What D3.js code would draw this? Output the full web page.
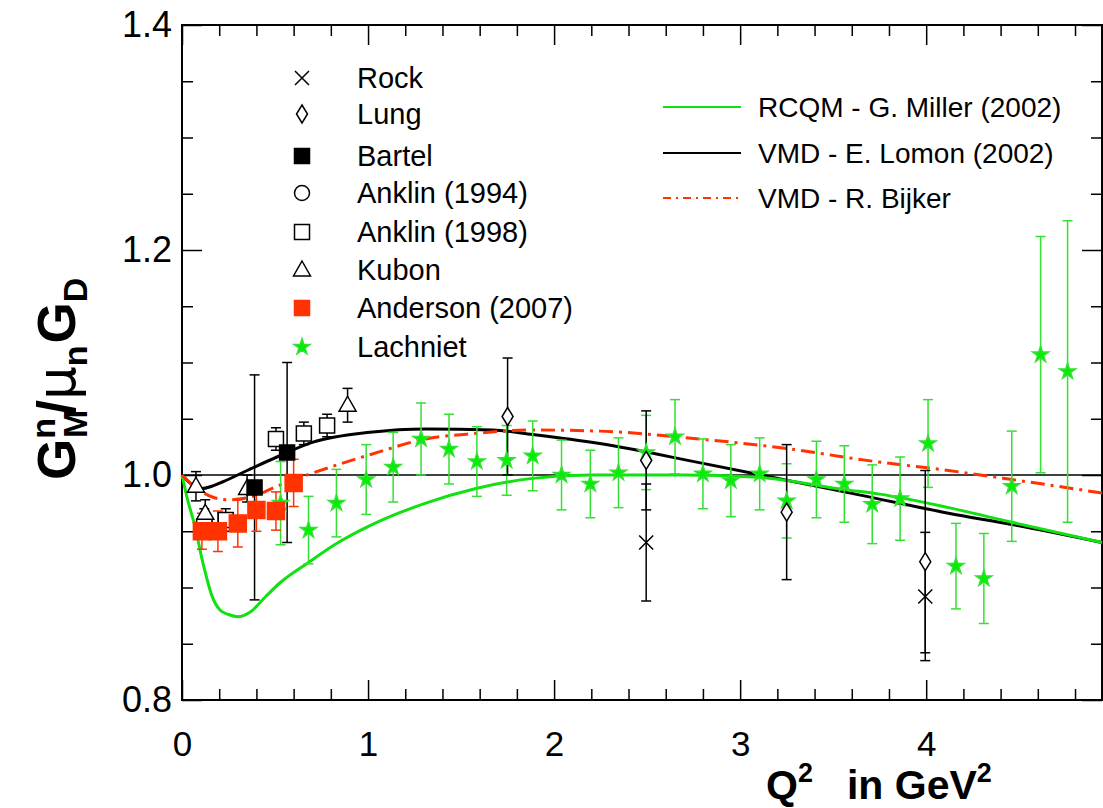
<!DOCTYPE html>
<html>
<head>
<meta charset="utf-8">
<script src="https://cdn.jsdelivr.net/npm/d3@7/dist/d3.min.js"></script>
<style>
  body { margin: 0; background: #fff; }
  text { font-family: "Liberation Sans", Arial, Helvetica, sans-serif; }
</style>
</head>
<body>
<div id="chart"></div>
<script>
// data: [Q2, ratio, error]
const rock = [[2.495, 0.940, 0.052], [3.995, 0.892, 0.057]];
const lung = [[1.75, 1.052, 0.052], [2.495, 1.013, 0.044], [3.25, 0.967, 0.060], [3.995, 0.923, 0.081]];
const bartel = [[0.39, 0.989, 0.100], [0.565, 1.020, 0.080]];
const anklin94 = [[0.12, 0.958, 0.012]];
const anklin98 = [[0.235, 0.960, 0.010], [0.505, 1.032, 0.010], [0.655, 1.037, 0.010], [0.78, 1.044, 0.010]];
const kubon = [[0.075, 0.990, 0.013], [0.125, 0.966, 0.012], [0.35, 0.988, 0.012], [0.89, 1.062, 0.015]];
const anderson = [[0.107, 0.950, 0.016], [0.193, 0.950, 0.018], [0.30, 0.957, 0.021], [0.40, 0.969, 0.019], [0.505, 0.968, 0.017], [0.60, 0.993, 0.021]];
const lachniet = [
  [0.53, 0.975, 0.037], [0.68, 0.951, 0.030], [0.83, 0.975, 0.030], [0.99, 0.996, 0.031],
  [1.135, 1.007, 0.031], [1.285, 1.032, 0.032], [1.435, 1.023, 0.031], [1.585, 1.012, 0.031],
  [1.745, 1.013, 0.031], [1.885, 1.017, 0.031], [2.04, 1.000, 0.031], [2.195, 0.992, 0.030],
  [2.346, 1.002, 0.031], [2.495, 1.020, 0.033], [2.65, 1.034, 0.033], [2.80, 1.001, 0.031],
  [2.95, 0.995, 0.032], [3.105, 1.001, 0.032], [3.25, 0.977, 0.033], [3.41, 0.996, 0.034],
  [3.56, 0.992, 0.034], [3.71, 0.974, 0.035], [3.86, 0.979, 0.037], [4.01, 1.028, 0.039],
  [4.16, 0.919, 0.038], [4.31, 0.908, 0.040], [4.46, 0.990, 0.049], [4.615, 1.107, 0.105],
  [4.76, 1.092, 0.134]
];

// theory curves [Q2, ratio]
const miller = [[0, 1.0], [0.03, 0.978], [0.064, 0.958], [0.118, 0.918], [0.16, 0.893], [0.204, 0.880],
  [0.25, 0.876], [0.30, 0.874], [0.365, 0.878], [0.45, 0.892], [0.526, 0.904], [0.678, 0.922],
  [0.82, 0.938], [1.01, 0.955], [1.31, 0.975], [1.58, 0.988], [1.885, 0.997], [2.2, 1.0],
  [2.69, 1.0], [3.1, 0.998], [3.56, 0.987], [3.75, 0.983], [4.12, 0.971], [4.46, 0.958], [4.945, 0.940]];
const lomon = [[0, 1.0], [0.05, 0.992], [0.107, 0.988], [0.16, 0.990], [0.22, 0.994], [0.35, 1.004],
  [0.51, 1.016], [0.70, 1.029], [1.01, 1.038], [1.31, 1.041], [1.67, 1.040], [1.885, 1.036],
  [2.245, 1.028], [2.78, 1.011], [3.23, 0.996], [3.68, 0.981], [4.12, 0.966], [4.46, 0.956], [4.945, 0.940]];
const bijker = [[0, 1.0], [0.08, 0.988], [0.17, 0.980], [0.245, 0.978], [0.38, 0.981], [0.525, 0.991],
  [0.69, 1.001], [1.01, 1.018], [1.31, 1.032], [1.58, 1.037], [1.885, 1.040], [2.245, 1.039],
  [2.78, 1.032], [3.23, 1.024], [3.68, 1.013], [4.12, 1.004], [4.46, 0.996], [4.945, 0.984]];

const xMajor = [0, 1, 2, 3, 4];
const yMajor = [0.8, 1.0, 1.2, 1.4];

const W = 1103, H = 808;
const mLeft = 182, mRight = 1102, mTop = 25, mBottom = 700;

let svg = d3.select("#chart").append("svg")
  .attr("width", W)
  .attr("height", H);

let x = d3.scaleLinear().domain([0, 4.945]).range([mLeft, mRight]);
let y = d3.scaleLinear().domain([0.8, 1.4]).range([mBottom, mTop]);

let xMinor = d3.range(0, 4.95, 0.2).filter(function(d){ return Math.abs(d - Math.round(d)) > 0.01; });
let yMinor = d3.range(0.8, 1.4, 0.05).filter(function(d){ return Math.abs(d * 5 - Math.round(d * 5)) > 0.01; });

// ticks, all pointing inward
function tickAxis(axis, tr, vals, size, labels) {
  let g = svg.append("g").attr("transform", tr)
    .call(axis.tickValues(vals).tickSize(size).tickFormat(labels ? labels : ""));
  g.select(".domain").remove();
  g.selectAll(".tick line").attr("stroke", "#000").attr("stroke-width", 1.5);
  return g;
}

tickAxis(d3.axisBottom(x), "translate(0," + mBottom + ")", xMinor, -11);
tickAxis(d3.axisTop(x), "translate(0," + mTop + ")", xMinor, -11);
tickAxis(d3.axisLeft(y), "translate(" + mLeft + ",0)", yMinor, -11);
tickAxis(d3.axisRight(y), "translate(" + mRight + ",0)", yMinor, -11);

let gx = tickAxis(d3.axisBottom(x).tickPadding(31), "translate(0," + mBottom + ")", xMajor, -20, d3.format("d"));
tickAxis(d3.axisTop(x), "translate(0," + mTop + ")", xMajor, -20);
let gy = tickAxis(d3.axisLeft(y).tickPadding(10), "translate(" + mLeft + ",0)", yMajor, -20, d3.format(".1f"));
tickAxis(d3.axisRight(y), "translate(" + mRight + ",0)", yMajor, -20);

gx.selectAll("text").attr("font-size", 35).attr("fill", "#000").attr("font-family", "Liberation Sans, Arial");
gy.selectAll("text").attr("font-size", 36).attr("fill", "#000").attr("font-family", "Liberation Sans, Arial");

svg.append("rect")
  .attr("x", mLeft).attr("y", mTop)
  .attr("width", mRight - mLeft).attr("height", mBottom - mTop)
  .attr("fill", "none").attr("stroke", "#000").attr("stroke-width", 2);

// reference line at 1
svg.append("line")
  .attr("x1", mLeft).attr("x2", mRight)
  .attr("y1", y(1)).attr("y2", y(1))
  .attr("stroke", "#000").attr("stroke-width", 1.5);

let plot = svg.append("g");

// theory curves
let line = d3.line()
  .x(function(d){ return x(d[0]); })
  .y(function(d){ return y(d[1]); })
  .curve(d3.curveMonotoneX);

plot.append("path").datum(lomon).attr("d", line)
  .attr("fill", "none").attr("stroke", "#000").attr("stroke-width", 3);
plot.append("path").datum(miller).attr("d", line)
  .attr("fill", "none").attr("stroke", "#11e011").attr("stroke-width", 3);
plot.append("path").datum(bijker).attr("d", line)
  .attr("fill", "none").attr("stroke", "#ff3300").attr("stroke-width", 3)
  .attr("stroke-dasharray", "14,6,3,6");

// marker shapes
const shapes = {
  cross: "M-7,-7L7,7M-7,7L7,-7",
  diamond: "M0,-9L5.5,0L0,9L-5.5,0Z",
  square: "M-7.5,-7.5H7.5V7.5H-7.5Z",
  bigSquare: "M-8.5,-8.5H8.5V8.5H-8.5Z",
  triangle: "M0,-9L8.5,6L-8.5,6Z",
  star: d3.symbol().type(d3.symbolStar).size(80)()
};

function errorBars(data, color, width) {
  let g = plot.append("g").attr("stroke", color).attr("stroke-width", width);
  let bars = g.selectAll("g").data(data).enter().append("g");
  bars.append("line")
    .attr("x1", function(d){ return x(d[0]); }).attr("x2", function(d){ return x(d[0]); })
    .attr("y1", function(d){ return y(d[1] - d[2]); }).attr("y2", function(d){ return y(d[1] + d[2]); });
  bars.append("line")
    .attr("x1", function(d){ return x(d[0]) - 5; }).attr("x2", function(d){ return x(d[0]) + 5; })
    .attr("y1", function(d){ return y(d[1] + d[2]); }).attr("y2", function(d){ return y(d[1] + d[2]); });
  bars.append("line")
    .attr("x1", function(d){ return x(d[0]) - 5; }).attr("x2", function(d){ return x(d[0]) + 5; })
    .attr("y1", function(d){ return y(d[1] - d[2]); }).attr("y2", function(d){ return y(d[1] - d[2]); });
}

function markers(data, shape, fill, stroke) {
  plot.append("g").selectAll("path").data(data).enter().append("path")
    .attr("transform", function(d){ return "translate(" + x(d[0]) + "," + y(d[1]) + ")"; })
    .attr("d", shape)
    .attr("fill", fill)
    .attr("stroke", stroke)
    .attr("stroke-width", 1.5);
}

function circles(data) {
  plot.append("g").selectAll("circle").data(data).enter().append("circle")
    .attr("cx", function(d){ return x(d[0]); })
    .attr("cy", function(d){ return y(d[1]); })
    .attr("r", 8)
    .attr("fill", "#fff")
    .attr("stroke", "#000")
    .attr("stroke-width", 1.5);
}

errorBars(lachniet, "#33e033", 1.5);
errorBars(rock, "#000", 1.5);
errorBars(lung, "#000", 1.5);
errorBars(bartel, "#000", 1.5);
errorBars(anklin94, "#000", 1.5);
errorBars(anklin98, "#000", 1.5);
errorBars(kubon, "#000", 1.5);
errorBars(anderson, "#ff3300", 1.5);

markers(lachniet, shapes.star, "#00ee00", "#33e033");
markers(rock, shapes.cross, "none", "#000");
markers(lung, shapes.diamond, "#fff", "#000");
circles(anklin94);
markers(anklin98, shapes.square, "#fff", "#000");
markers(kubon, shapes.triangle, "#fff", "#000");
markers(bartel, shapes.square, "#000", "#000");
markers(anderson, shapes.bigSquare, "#ff3300", "#ff3300");

// legend for data
const legendNames = ["Rock", "Lung", "Bartel", "Anklin (1994)", "Anklin (1998)", "Kubon", "Anderson (2007)", "Lachniet"];
const legendY = [78, 114, 156, 193, 232, 270, 308, 347];
let legShapes = [
  [shapes.cross, "none", "#000"], [shapes.diamond, "#fff", "#000"], [shapes.square, "#000", "#000"],
  ["circle", "#fff", "#000"], [shapes.square, "#fff", "#000"], [shapes.triangle, "#fff", "#000"],
  [shapes.square, "#ff3300", "#ff3300"], [shapes.star, "#00ee00", "#33e033"]
];
let leg = svg.append("g");
legendNames.forEach(function(name, i) {
  let s = legShapes[i];
  if (s[0] === "circle") {
    leg.append("circle").attr("cx", 302).attr("cy", legendY[i]).attr("r", 7.5)
      .attr("fill", s[1]).attr("stroke", s[2]).attr("stroke-width", 1.5);
  } else {
    leg.append("path").attr("transform", "translate(302," + legendY[i] + ")")
      .attr("d", s[0]).attr("fill", s[1]).attr("stroke", s[2]).attr("stroke-width", 1.5);
  }
  leg.append("text").attr("x", 357).attr("y", legendY[i]).attr("dy", "0.36em")
    .attr("font-size", 29).text(name);
});

// legend for curves
const curveNames = ["RCQM - G. Miller (2002)", "VMD - E. Lomon (2002)", "VMD - R. Bijker"];
const curveY = [107, 153, 198];
const curveColors = ["#11e011", "#000", "#ff3300"];
curveNames.forEach(function(name, i) {
  let l = leg.append("line").attr("x1", 663).attr("x2", 741)
    .attr("y1", curveY[i]).attr("y2", curveY[i])
    .attr("stroke", curveColors[i]).attr("stroke-width", 2);
  if (i === 2) l.attr("stroke-dasharray", "8,5,2,5");
  leg.append("text").attr("x", 758).attr("y", curveY[i]).attr("dy", "0.36em")
    .attr("font-size", 28).text(name);
});

// axis titles
let xt = svg.append("text").attr("x", 766).attr("y", 799)
  .attr("font-size", 41).attr("font-weight", "bold");
xt.append("tspan").text("Q");
xt.append("tspan").attr("font-size", 27).attr("dy", -17).text("2");
xt.append("tspan").attr("dx", 34).attr("dy", 17).text("in GeV");
xt.append("tspan").attr("font-size", 27).attr("dy", -17).text("2");

let yt = svg.append("text").attr("transform", "translate(75,480) rotate(-90)")
  .attr("font-size", 53).attr("font-weight", "bold");
yt.append("tspan").text("G");
yt.append("tspan").attr("font-size", 34).attr("dy", -20).text("n");
yt.append("tspan").attr("font-size", 34).attr("dx", -20).attr("dy", 32).text("M");
yt.append("tspan").attr("dy", -12).attr("dx", -5).text("/");
yt.append("tspan").attr("font-weight", "normal").attr("font-family", "DejaVu Sans").text("μ");
yt.append("tspan").attr("font-size", 34).attr("dy", 12).text("n");
yt.append("tspan").attr("dy", -12).attr("dx", 2).text("G");
yt.append("tspan").attr("font-size", 34).attr("dy", 12).text("D");
</script>
</body>
</html>
